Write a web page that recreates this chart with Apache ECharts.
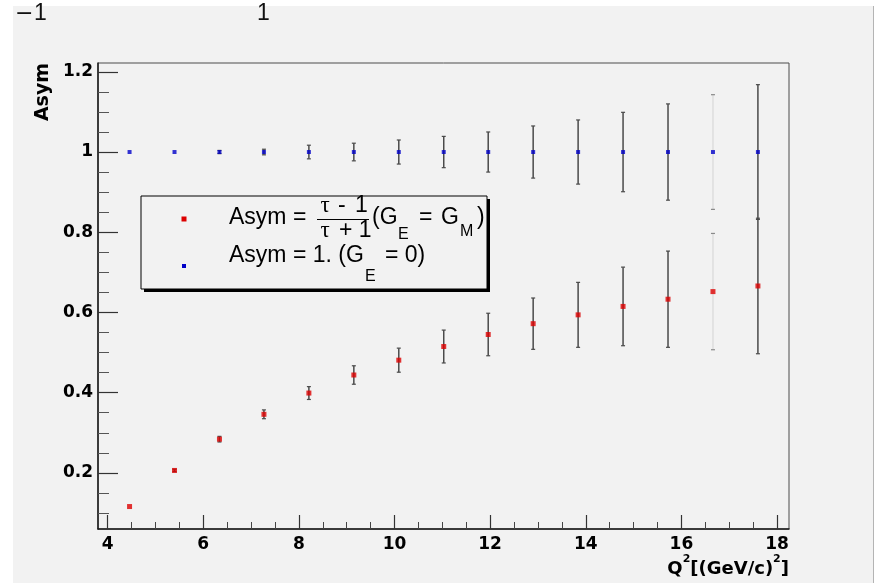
<!DOCTYPE html>
<html>
<head>
<meta charset="utf-8">
<script src="https://cdn.jsdelivr.net/npm/echarts@6/dist/echarts.min.js"></script>
<style>
html,body{margin:0;padding:0;background:#ffffff;width:879px;height:585px;overflow:hidden;}
#bg{position:absolute;left:13px;top:6px;width:860px;height:577px;background:#f2f2f2;border-right:1px solid #b4b4b4;}
#chart{position:absolute;left:0;top:0;width:879px;height:585px;}
</style>
</head>
<body>
<div id="bg"></div>
<div id="chart"></div>
<script>
// ---- data ----
const q2Values   = [4.46, 5.40, 6.34, 7.27, 8.21, 9.15, 10.09, 11.03, 11.96, 12.90, 13.84, 14.78, 15.72, 16.66, 17.60];
const asymRed    = [0.116, 0.206, 0.284, 0.346, 0.399, 0.444, 0.481, 0.515, 0.545, 0.572, 0.594, 0.615, 0.633, 0.652, 0.666];
const errRed     = [0.002, 0.003, 0.007, 0.011, 0.016, 0.023, 0.030, 0.041, 0.053, 0.064, 0.081, 0.098, 0.120, 0.145, 0.169];
const asymBlue   = [1, 1, 1, 1, 1, 1, 1, 1, 1, 1, 1, 1, 1, 1, 1];
const errBlue    = [0.001, 0.002, 0.004, 0.007, 0.017, 0.022, 0.030, 0.039, 0.050, 0.065, 0.080, 0.099, 0.120, 0.143, 0.168];

const xMajorTicks  = [4, 6, 8, 10, 12, 14, 16, 18];
const xTickLabels  = ['4', '6', '8', '10', '12', '14', '16', '18'];
const xMinorTicks  = [4.5, 5, 5.5, 6.5, 7, 7.5, 8.5, 9, 9.5, 10.5, 11, 11.5, 12.5, 13, 13.5, 14.5, 15, 15.5, 16.5, 17, 17.5];
const yMajorTicks  = [0.2, 0.4, 0.6, 0.8, 1.0, 1.2];
const yTickLabels  = ['0.2', '0.4', '0.6', '0.8', '1', '1.2'];
const yMinorTicks  = [0.1, 0.15, 0.25, 0.3, 0.35, 0.45, 0.5, 0.55, 0.65, 0.7, 0.75, 0.85, 0.9, 0.95, 1.05, 1.1, 1.15];

const xRange = [3.8, 18.25];
const yRange = [0.06, 1.222];

// ---- styles ----
const FONT = '"Liberation Sans", Arial, sans-serif';
const AXFONT = '"DejaVu Sans", Verdana, sans-serif';
const SERIF = '"Liberation Serif", "Times New Roman", serif';
const faintBarIndex = 13;

function labelFor(ticks, labels) {
  return function (v) {
    for (let i = 0; i < ticks.length; i++) {
      if (Math.abs(ticks[i] - v) < 1e-9) return labels[i];
    }
    return '';
  };
}

function errRender(params, api) {
  const x = api.value(0), y = api.value(1), e = api.value(2);
  const top = api.coord([x, y + e]);
  const bot = api.coord([x, y - e]);
  const faint = params.dataIndex === faintBarIndex;
  const col = faint ? '#dedede' : '#4a4a4a';
  const capCol = faint ? '#8a8a8a' : '#4a4a4a';
  const cw = 2;
  if (bot[1] - top[1] < 2) return { type: 'group', children: [] };
  return {
    type: 'group',
    children: [
      { type: 'line', shape: { x1: top[0], y1: top[1], x2: bot[0], y2: bot[1] }, style: { stroke: col, lineWidth: 1.5 } },
      { type: 'line', shape: { x1: top[0] - cw, y1: top[1], x2: top[0] + cw, y2: top[1] }, style: { stroke: capCol, lineWidth: 1.2 } },
      { type: 'line', shape: { x1: bot[0] - cw, y1: bot[1], x2: bot[0] + cw, y2: bot[1] }, style: { stroke: capCol, lineWidth: 1.2 } }
    ]
  };
}

function txt(text, x, y, size, opts) {
  opts = opts || {};
  return {
    type: 'text', x: x, y: y, z: 20,
    rotation: opts.rotation || 0,
    style: {
      text: text,
      fontFamily: opts.family || FONT,
      fontSize: size,
      fontWeight: opts.weight || 'normal',
      fill: opts.fill || '#000',
      align: opts.align || 'left',
      textAlign: opts.align || 'left',
      verticalAlign: 'middle',
      textVerticalAlign: 'middle'
    }
  };
}

const chart = echarts.init(document.getElementById('chart'), null, { renderer: 'canvas' });

const option = {
  animation: false,
  backgroundColor: 'transparent',
  grid: {
    left: 98, right: 90, top: 63, bottom: 56,
    show: true, borderColor: '#4d4d4d', borderWidth: 1, backgroundColor: 'transparent',
    containLabel: false, outerBoundsMode: 'none'
  },
  xAxis: [
    {
      type: 'value', min: xRange[0], max: xRange[1], position: 'bottom',
      axisLine: { show: true, onZero: false, lineStyle: { color: '#1a1a1a', width: 1.5 } },
      axisTick: { show: true, inside: true, length: 14, customValues: xMajorTicks, lineStyle: { color: '#333', width: 1.2 } },
      axisLabel: {
        show: true, customValues: xMajorTicks, formatter: labelFor(xMajorTicks, xTickLabels),
        fontFamily: AXFONT, fontWeight: 'bold', fontSize: 17, color: '#000', margin: 7
      },
      splitLine: { show: false }
    },
    {
      type: 'value', min: xRange[0], max: xRange[1], position: 'bottom', offset: 0,
      axisLine: { show: false },
      axisTick: { show: true, inside: true, length: 7, customValues: xMinorTicks, lineStyle: { color: '#444', width: 1 } },
      axisLabel: { show: false },
      splitLine: { show: false }
    }
  ],
  yAxis: [
    {
      type: 'value', min: yRange[0], max: yRange[1], position: 'left',
      axisLine: { show: true, onZero: false, lineStyle: { color: '#1a1a1a', width: 1.5 } },
      axisTick: { show: true, inside: true, length: 20, customValues: yMajorTicks, lineStyle: { color: '#333', width: 1.2 } },
      axisLabel: {
        show: true, customValues: yMajorTicks, formatter: labelFor(yMajorTicks, yTickLabels),
        fontFamily: AXFONT, fontWeight: 'bold', fontSize: 17, color: '#000', margin: 5,
        padding: [7, 0, 0, 0]
      },
      splitLine: { show: false }
    },
    {
      type: 'value', min: yRange[0], max: yRange[1], position: 'left', offset: 0,
      axisLine: { show: false },
      axisTick: { show: true, inside: true, length: 11, customValues: yMinorTicks, lineStyle: { color: '#555', width: 1 } },
      axisLabel: { show: false },
      splitLine: { show: false }
    }
  ],
  series: [
    {
      type: 'custom', name: 'errBlue', xAxisIndex: 0, yAxisIndex: 0, z: 3,
      renderItem: errRender, encode: { x: 0, y: 1 },
      data: q2Values.map((x, i) => [x, asymBlue[i], errBlue[i]])
    },
    {
      type: 'custom', name: 'errRed', xAxisIndex: 0, yAxisIndex: 0, z: 3,
      renderItem: errRender, encode: { x: 0, y: 1 },
      data: q2Values.map((x, i) => [x, asymRed[i], errRed[i]])
    },
    {
      type: 'scatter', name: 'Asym = 1. (G_E = 0)', xAxisIndex: 0, yAxisIndex: 0, z: 5,
      symbol: 'rect', symbolSize: 4, itemStyle: { color: '#0000c8' },
      data: q2Values.map((x, i) => [x, asymBlue[i]])
    },
    {
      type: 'scatter', name: 'Asym = (tau-1)/(tau+1)', xAxisIndex: 0, yAxisIndex: 0, z: 5,
      symbol: 'rect', symbolSize: 5, itemStyle: { color: '#dc0000' },
      data: q2Values.map((x, i) => [x, asymRed[i]])
    }
  ],
  graphic: [
    // stray labels at top of the canvas
    txt('\u2212', 15, 14, 22, { family: AXFONT, fill: '#111' }),
    txt('1', 34, 14, 23, { fill: '#111' }),
    txt('1', 257, 14, 23, { fill: '#111' }),
    // axis titles
    txt('Asym', 43, 92, 19, { family: AXFONT, weight: 'bold', align: 'center', rotation: Math.PI / 2 }),
    {
      type: 'text', x: 789, y: 566, z: 20,
      style: {
        text: '{b|Q}{s|2}{b|[(GeV/c)}{s|2}{b|]}',
        align: 'right', textAlign: 'right', verticalAlign: 'middle', textVerticalAlign: 'middle',
        rich: {
          b: { fontFamily: AXFONT, fontWeight: 'bold', fontSize: 18, fill: '#000', color: '#000', lineHeight: 24, verticalAlign: 'bottom' },
          s: { fontFamily: AXFONT, fontWeight: 'bold', fontSize: 11, fill: '#000', color: '#000', lineHeight: 24, verticalAlign: 'top' }
        }
      }
    },
    // legend box with shadow
    { type: 'rect', z: 15, shape: { x: 144, y: 199, width: 346, height: 93 }, style: { fill: '#000' } },
    { type: 'rect', z: 16, shape: { x: 141, y: 196, width: 346, height: 93 }, style: { fill: '#f2f2f2', stroke: '#000', lineWidth: 1 } },
    { type: 'rect', z: 17, shape: { x: 181.5, y: 216.5, width: 5, height: 5 }, style: { fill: '#dc0000' } },
    { type: 'rect', z: 17, shape: { x: 182, y: 264, width: 4, height: 4 }, style: { fill: '#0000c8' } },
    // legend line 1
    txt('Asym =', 229, 218, 23),
    txt('\u03c4', 325, 206, 23, { family: SERIF, align: 'center' }),
    txt('-', 338, 206, 23),
    txt('1', 355, 206, 23),
    { type: 'line', z: 20, shape: { x1: 317, y1: 219.5, x2: 369, y2: 219.5 }, style: { stroke: '#000', lineWidth: 1 } },
    txt('\u03c4', 325, 231, 23, { family: SERIF, align: 'center' }),
    txt('+ 1', 339, 231, 23),
    txt('(G', 372, 218, 23),
    txt('E', 398, 235, 16),
    txt('=', 419, 218, 23),
    txt('G', 441, 218, 23),
    txt('M', 460, 232, 16),
    txt(')', 477, 218, 23),
    // legend line 2
    txt('Asym = 1. (G', 229, 256, 23),
    txt('E', 365, 277, 16),
    txt('= 0)', 385, 256, 23)
  ]
};

chart.setOption(option);
</script>
</body>
</html>
